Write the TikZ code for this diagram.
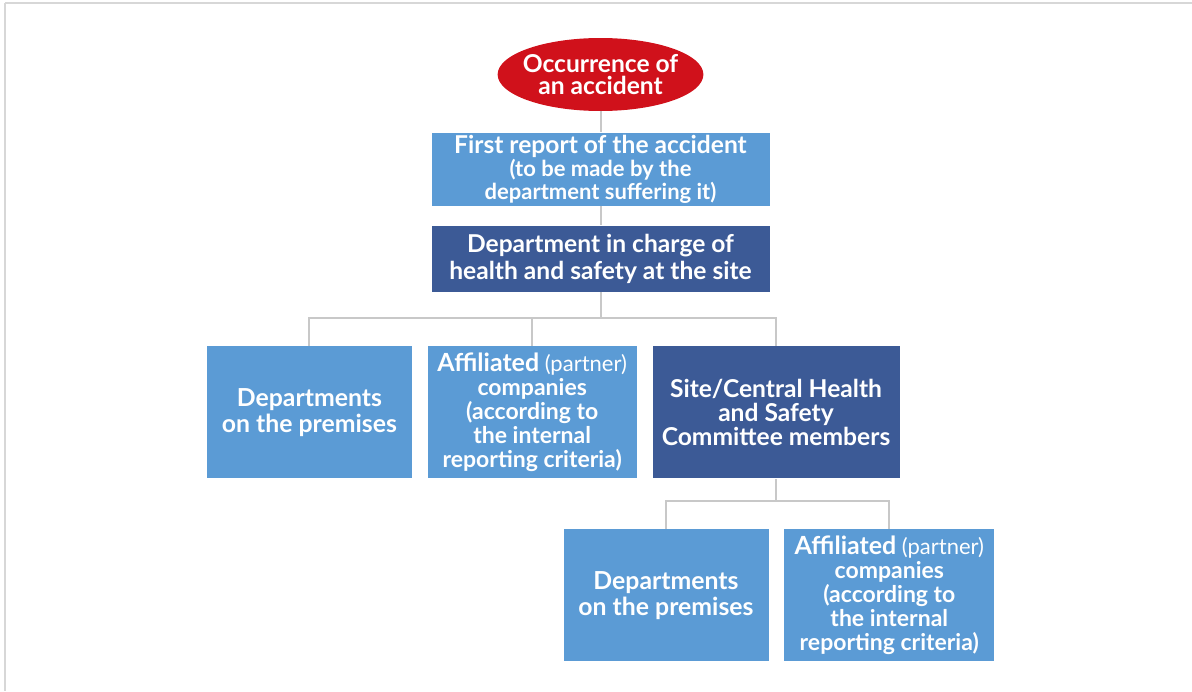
\documentclass[tikz,border=0pt]{standalone}
\usepackage{fontspec}
\setmainfont{Lato}
\usetikzlibrary{shapes.geometric, positioning}
\definecolor{accred}{RGB}{208,17,27}
\definecolor{lightblue}{RGB}{91,155,213}
\definecolor{darkblue}{RGB}{60,90,150}
\definecolor{linkgray}{RGB}{200,200,200}
\definecolor{framegray}{RGB}{215,215,215}

\begin{document}
\begin{tikzpicture}[x=0.5pt, y=-0.5pt, node distance=7.5pt,
    block/.style={rectangle, fill=lightblue, text=white, font=\bfseries\fontsize{12.4}{13}\selectfont, align=center, inner sep=0pt, minimum height=66pt},
    darkblock/.style={block, fill=darkblue},
    link/.style={draw=linkgray, line width=1pt}]

    \useasboundingbox (0,0) rectangle (1192,691);
    \draw[framegray, line width=0.8pt] (5,3) -- (1192,3);
    \draw[framegray, line width=0.8pt] (5,3) -- (5,691);

    % Depart
    \node[ellipse, fill=accred, text=white, minimum width=102.5pt, minimum height=36.5pt, inner xsep=-2.5pt, inner ysep=0pt, align=center, font=\bfseries\fontsize{12.3}{11}\selectfont] (occur) at (600.5,74.5) {Occurrence of\\an accident};

    % Premier rapport
    \node[block, minimum width=169pt, minimum height=36.5pt, below=10.5pt of occur, font=\bfseries\fontsize{12.3}{10}\selectfont] (report) {First report of the accident\\{\fontsize{11}{10}\selectfont (to be made by the}\\{\fontsize{11}{10}\selectfont department suffering it)}};

    % Service sante et securite
    \node[darkblock, minimum width=169pt, minimum height=33pt, below=9.5pt of report, font=\bfseries\fontsize{12.3}{13.5}\selectfont] (dept) {Department in charge of\\health and safety at the site};

    % Premier niveau
    \node[darkblock, minimum width=123.5pt, below=27pt of dept, xshift=87.75pt, font=\bfseries\fontsize{12.3}{12}\selectfont] (cttee) {Site/Central Health\\and Safety\\Committee members};
    \node[block, minimum width=104.5pt, left=7.5pt of cttee, font=\bfseries\fontsize{11.5}{12}\selectfont] (partnerB) {{\fontsize{12.5}{12}\selectfont Affiliated} {\mdseries\fontsize{11}{12}\selectfont(partner)}\\companies\\(according to\\the internal\\reporting criteria)};
    \node[block, minimum width=102.5pt, left=7.5pt of partnerB] (premA) {Departments\\on the premises};

    % Second niveau
    \node[block, minimum width=102.5pt, below=25pt of cttee, xshift=-55pt] (premD) {Departments\\on the premises};
    \node[block, minimum width=105pt, right=7.5pt of premD, font=\bfseries\fontsize{11.5}{12}\selectfont] (partnerE) {{\fontsize{12.5}{12}\selectfont Affiliated} {\mdseries\fontsize{11}{12}\selectfont(partner)}\\companies\\(according to\\the internal\\reporting criteria)};

    % Liens
    \draw[link] (occur) -- (report);
    \draw[link] (report) -- (dept);
    \draw[link] (dept.south) -- ++(0,-13pt) coordinate (bus1);
    \draw[link] (bus1) -| (premA.north);
    \draw[link] (bus1) -| (partnerB.north);
    \draw[link] (bus1) -| (cttee.north);
    \draw[link] (cttee.south) -- ++(0,-11pt) coordinate (bus2);
    \draw[link] (bus2) -| (premD.north);
    \draw[link] (bus2) -| (partnerE.north);

\end{tikzpicture}
\end{document}
